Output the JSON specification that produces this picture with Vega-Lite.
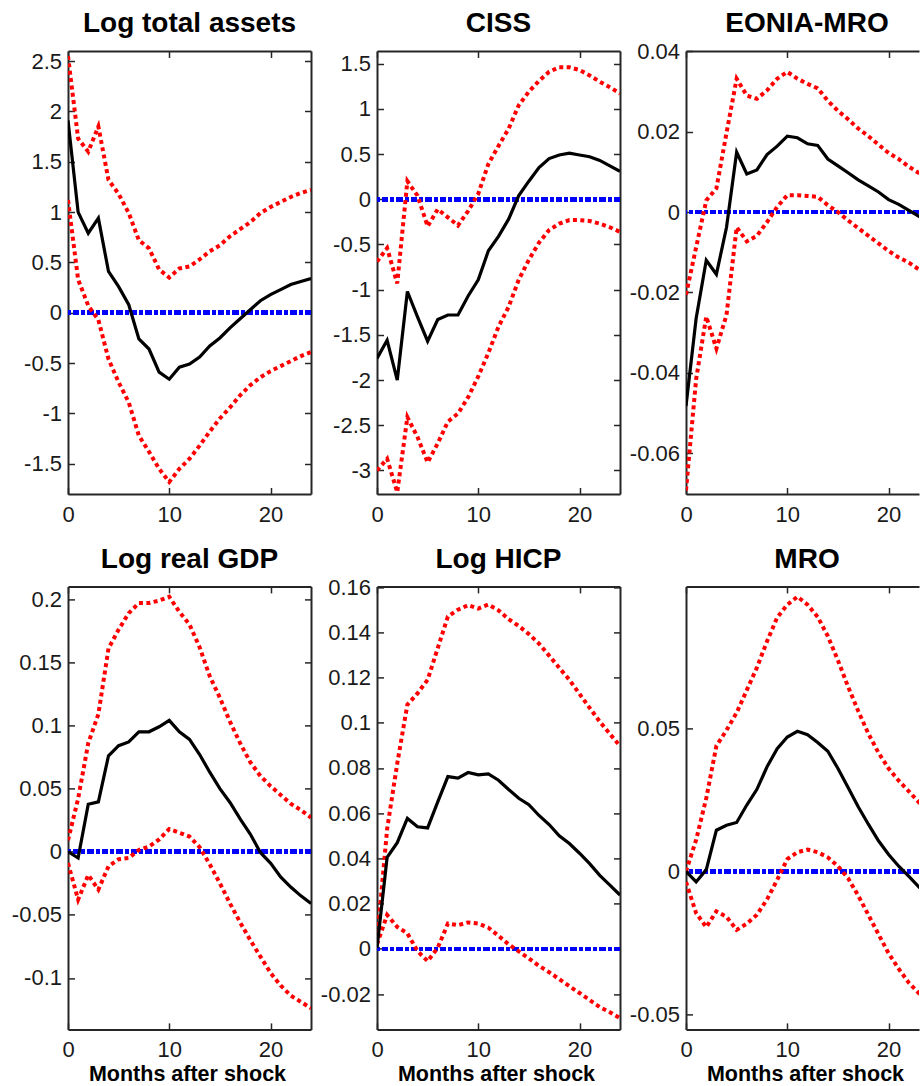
{
"$schema": "https://vega.github.io/schema/vega-lite/v6.json",
"padding": {"left": 11, "top": 10, "right": 0, "bottom": 0},
"background": "white",
"config": {
  "view": {"stroke": null},
  "axis": {"grid": false, "domainColor": "#262626", "domainWidth": 2, "tickColor": "#262626", "tickWidth": 1.5, "tickSize": -6.5, "labelFont": "Liberation Sans", "labelFontSize": 22, "labelColor": "#1a1a1a", "labelFlush": false, "labelOverlap": false, "titleFont": "Liberation Sans", "titleFontSize": 21.5, "titleFontWeight": "bold", "titleColor": "black"},
  "axisLeft": {"labelPadding": 13},
  "axisBottom": {"labelPadding": 16.9},
  "title": {"font": "Liberation Sans", "fontSize": 28, "fontWeight": "bold", "color": "black", "frame": "group", "anchor": "middle", "baseline": "alphabetic", "offset": 12}
},
"datasets": {"irf": [
{"p":"A","h":0,"lo":1.12,"md":1.91,"hi":2.55},{"p":"A","h":1,"lo":0.33,"md":1.0,"hi":1.73},{"p":"A","h":2,"lo":0.07,"md":0.79,"hi":1.6},{"p":"A","h":3,"lo":-0.07,"md":0.94,"hi":1.85},{"p":"A","h":4,"lo":-0.46,"md":0.41,"hi":1.32},{"p":"A","h":5,"lo":-0.69,"md":0.26,"hi":1.18},{"p":"A","h":6,"lo":-0.89,"md":0.08,"hi":0.99},{"p":"A","h":7,"lo":-1.22,"md":-0.26,"hi":0.72},{"p":"A","h":8,"lo":-1.38,"md":-0.36,"hi":0.64},{"p":"A","h":9,"lo":-1.55,"md":-0.59,"hi":0.43},{"p":"A","h":10,"lo":-1.68,"md":-0.66,"hi":0.35},{"p":"A","h":11,"lo":-1.55,"md":-0.54,"hi":0.44},{"p":"A","h":12,"lo":-1.45,"md":-0.51,"hi":0.46},{"p":"A","h":13,"lo":-1.32,"md":-0.44,"hi":0.53},{"p":"A","h":14,"lo":-1.18,"md":-0.33,"hi":0.61},{"p":"A","h":15,"lo":-1.05,"md":-0.25,"hi":0.67},{"p":"A","h":16,"lo":-0.94,"md":-0.15,"hi":0.76},{"p":"A","h":17,"lo":-0.82,"md":-0.06,"hi":0.83},{"p":"A","h":18,"lo":-0.72,"md":0.03,"hi":0.9},{"p":"A","h":19,"lo":-0.64,"md":0.12,"hi":0.99},{"p":"A","h":20,"lo":-0.58,"md":0.18,"hi":1.05},{"p":"A","h":21,"lo":-0.53,"md":0.23,"hi":1.1},{"p":"A","h":22,"lo":-0.48,"md":0.28,"hi":1.15},{"p":"A","h":23,"lo":-0.43,"md":0.31,"hi":1.19},{"p":"A","h":24,"lo":-0.39,"md":0.34,"hi":1.22},
{"p":"C","h":0,"lo":-3.0,"md":-1.76,"hi":-0.69},{"p":"C","h":1,"lo":-2.87,"md":-1.56,"hi":-0.54},{"p":"C","h":2,"lo":-3.24,"md":-2.0,"hi":-0.93},{"p":"C","h":3,"lo":-2.41,"md":-1.02,"hi":0.2},{"p":"C","h":4,"lo":-2.63,"md":-1.3,"hi":0.04},{"p":"C","h":5,"lo":-2.91,"md":-1.57,"hi":-0.3},{"p":"C","h":6,"lo":-2.7,"md":-1.33,"hi":-0.11},{"p":"C","h":7,"lo":-2.46,"md":-1.28,"hi":-0.2},{"p":"C","h":8,"lo":-2.37,"md":-1.28,"hi":-0.29},{"p":"C","h":9,"lo":-2.19,"md":-1.07,"hi":-0.13},{"p":"C","h":10,"lo":-1.96,"md":-0.89,"hi":0.06},{"p":"C","h":11,"lo":-1.7,"md":-0.57,"hi":0.39},{"p":"C","h":12,"lo":-1.41,"md":-0.41,"hi":0.59},{"p":"C","h":13,"lo":-1.19,"md":-0.22,"hi":0.78},{"p":"C","h":14,"lo":-0.89,"md":0.04,"hi":1.04},{"p":"C","h":15,"lo":-0.67,"md":0.2,"hi":1.19},{"p":"C","h":16,"lo":-0.48,"md":0.35,"hi":1.31},{"p":"C","h":17,"lo":-0.34,"md":0.45,"hi":1.41},{"p":"C","h":18,"lo":-0.27,"md":0.49,"hi":1.46},{"p":"C","h":19,"lo":-0.23,"md":0.51,"hi":1.46},{"p":"C","h":20,"lo":-0.23,"md":0.49,"hi":1.43},{"p":"C","h":21,"lo":-0.24,"md":0.47,"hi":1.37},{"p":"C","h":22,"lo":-0.27,"md":0.43,"hi":1.3},{"p":"C","h":23,"lo":-0.31,"md":0.37,"hi":1.24},{"p":"C","h":24,"lo":-0.36,"md":0.31,"hi":1.17},
{"p":"E","h":0,"lo":-0.0693,"md":-0.0483,"hi":-0.0206},{"p":"E","h":1,"lo":-0.0416,"md":-0.0265,"hi":-0.0088},{"p":"E","h":2,"lo":-0.026,"md":-0.012,"hi":0.0029},{"p":"E","h":3,"lo":-0.034,"md":-0.0155,"hi":0.0059},{"p":"E","h":4,"lo":-0.0256,"md":-0.0038,"hi":0.0197},{"p":"E","h":5,"lo":-0.0038,"md":0.0149,"hi":0.0332},{"p":"E","h":6,"lo":-0.0073,"md":0.0095,"hi":0.029},{"p":"E","h":7,"lo":-0.0059,"md":0.0105,"hi":0.0282},{"p":"E","h":8,"lo":-0.0025,"md":0.0143,"hi":0.0303},{"p":"E","h":9,"lo":0.0013,"md":0.0164,"hi":0.0332},{"p":"E","h":10,"lo":0.0042,"md":0.0189,"hi":0.0349},{"p":"E","h":11,"lo":0.0042,"md":0.0185,"hi":0.0332},{"p":"E","h":12,"lo":0.004,"md":0.017,"hi":0.0319},{"p":"E","h":13,"lo":0.0038,"md":0.0166,"hi":0.0308},{"p":"E","h":14,"lo":0.0017,"md":0.0132,"hi":0.0277},{"p":"E","h":15,"lo":0.0,"md":0.0115,"hi":0.0252},{"p":"E","h":16,"lo":-0.0021,"md":0.0098,"hi":0.0231},{"p":"E","h":17,"lo":-0.004,"md":0.008,"hi":0.0208},{"p":"E","h":18,"lo":-0.0059,"md":0.0065,"hi":0.0189},{"p":"E","h":19,"lo":-0.0078,"md":0.005,"hi":0.0168},{"p":"E","h":20,"lo":-0.0097,"md":0.0031,"hi":0.0147},{"p":"E","h":21,"lo":-0.0113,"md":0.0019,"hi":0.0132},{"p":"E","h":22,"lo":-0.0126,"md":0.0004,"hi":0.0113},{"p":"E","h":23,"lo":-0.0143,"md":-0.0011,"hi":0.0097},{"p":"E","h":24,"lo":-0.016,"md":-0.0025,"hi":0.008},
{"p":"G","h":0,"lo":-0.009,"md":0.0,"hi":0.009},{"p":"G","h":1,"lo":-0.038,"md":-0.005,"hi":0.042},{"p":"G","h":2,"lo":-0.0185,"md":0.0376,"hi":0.086},{"p":"G","h":3,"lo":-0.03,"md":0.0395,"hi":0.109},{"p":"G","h":4,"lo":-0.0116,"md":0.076,"hi":0.161},{"p":"G","h":5,"lo":-0.006,"md":0.084,"hi":0.176},{"p":"G","h":6,"lo":-0.005,"md":0.087,"hi":0.189},{"p":"G","h":7,"lo":0.0014,"md":0.095,"hi":0.197},{"p":"G","h":8,"lo":0.004,"md":0.095,"hi":0.197},{"p":"G","h":9,"lo":0.0097,"md":0.099,"hi":0.199},{"p":"G","h":10,"lo":0.018,"md":0.104,"hi":0.202},{"p":"G","h":11,"lo":0.015,"md":0.095,"hi":0.19},{"p":"G","h":12,"lo":0.012,"md":0.089,"hi":0.18},{"p":"G","h":13,"lo":0.0036,"md":0.077,"hi":0.162},{"p":"G","h":14,"lo":-0.01,"md":0.063,"hi":0.139},{"p":"G","h":15,"lo":-0.025,"md":0.05,"hi":0.122},{"p":"G","h":16,"lo":-0.041,"md":0.039,"hi":0.103},{"p":"G","h":17,"lo":-0.056,"md":0.026,"hi":0.086},{"p":"G","h":18,"lo":-0.07,"md":0.014,"hi":0.071},{"p":"G","h":19,"lo":-0.083,"md":-0.0006,"hi":0.06},{"p":"G","h":20,"lo":-0.096,"md":-0.009,"hi":0.052},{"p":"G","h":21,"lo":-0.106,"md":-0.02,"hi":0.045},{"p":"G","h":22,"lo":-0.114,"md":-0.028,"hi":0.038},{"p":"G","h":23,"lo":-0.119,"md":-0.035,"hi":0.033},{"p":"G","h":24,"lo":-0.124,"md":-0.041,"hi":0.027},
{"p":"H","h":0,"lo":0.002,"md":0.0005,"hi":0.0035},{"p":"H","h":1,"lo":0.015,"md":0.0405,"hi":0.053},{"p":"H","h":2,"lo":0.0097,"md":0.047,"hi":0.082},{"p":"H","h":3,"lo":0.0069,"md":0.0577,"hi":0.108},{"p":"H","h":4,"lo":-0.001,"md":0.054,"hi":0.113},{"p":"H","h":5,"lo":-0.0054,"md":0.0535,"hi":0.119},{"p":"H","h":6,"lo":0.0005,"md":0.065,"hi":0.133},{"p":"H","h":7,"lo":0.0112,"md":0.0762,"hi":0.147},{"p":"H","h":8,"lo":0.0105,"md":0.0755,"hi":0.15},{"p":"H","h":9,"lo":0.0117,"md":0.078,"hi":0.152},{"p":"H","h":10,"lo":0.0112,"md":0.077,"hi":0.1505},{"p":"H","h":11,"lo":0.0094,"md":0.0774,"hi":0.1523},{"p":"H","h":12,"lo":0.0058,"md":0.0746,"hi":0.1497},{"p":"H","h":13,"lo":0.002,"md":0.0705,"hi":0.1458},{"p":"H","h":14,"lo":-0.0011,"md":0.0666,"hi":0.1428},{"p":"H","h":15,"lo":-0.0042,"md":0.0638,"hi":0.1392},{"p":"H","h":16,"lo":-0.0075,"md":0.059,"hi":0.135},{"p":"H","h":17,"lo":-0.0103,"md":0.055,"hi":0.1297},{"p":"H","h":18,"lo":-0.0134,"md":0.05,"hi":0.1243},{"p":"H","h":19,"lo":-0.0165,"md":0.0466,"hi":0.119},{"p":"H","h":20,"lo":-0.0195,"md":0.0423,"hi":0.1128},{"p":"H","h":21,"lo":-0.0226,"md":0.0377,"hi":0.1066},{"p":"H","h":22,"lo":-0.0257,"md":0.0325,"hi":0.1005},{"p":"H","h":23,"lo":-0.028,"md":0.0282,"hi":0.0951},{"p":"H","h":24,"lo":-0.0306,"md":0.0238,"hi":0.0897},
{"p":"M","h":0,"lo":-0.0037,"md":0.0,"hi":0.0},{"p":"M","h":1,"lo":-0.0146,"md":-0.0037,"hi":0.011},{"p":"M","h":2,"lo":-0.0195,"md":0.0006,"hi":0.0256},{"p":"M","h":3,"lo":-0.014,"md":0.0144,"hi":0.0439},{"p":"M","h":4,"lo":-0.0159,"md":0.0161,"hi":0.0494},{"p":"M","h":5,"lo":-0.0205,"md":0.0171,"hi":0.0555},{"p":"M","h":6,"lo":-0.0183,"md":0.0232,"hi":0.0634},{"p":"M","h":7,"lo":-0.0152,"md":0.0287,"hi":0.0713},{"p":"M","h":8,"lo":-0.0098,"md":0.0366,"hi":0.0805},{"p":"M","h":9,"lo":-0.003,"md":0.0429,"hi":0.0888},{"p":"M","h":10,"lo":0.0043,"md":0.047,"hi":0.0933},{"p":"M","h":11,"lo":0.0067,"md":0.049,"hi":0.0961},{"p":"M","h":12,"lo":0.0076,"md":0.0478,"hi":0.0933},{"p":"M","h":13,"lo":0.0067,"md":0.0451,"hi":0.089},{"p":"M","h":14,"lo":0.0049,"md":0.042,"hi":0.0823},{"p":"M","h":15,"lo":0.0018,"md":0.036,"hi":0.0738},{"p":"M","h":16,"lo":-0.0024,"md":0.0293,"hi":0.0646},{"p":"M","h":17,"lo":-0.0085,"md":0.0226,"hi":0.0561},{"p":"M","h":18,"lo":-0.0152,"md":0.0165,"hi":0.0482},{"p":"M","h":19,"lo":-0.022,"md":0.0107,"hi":0.0415},{"p":"M","h":20,"lo":-0.0287,"md":0.0059,"hi":0.036},{"p":"M","h":21,"lo":-0.0341,"md":0.0018,"hi":0.0317},{"p":"M","h":22,"lo":-0.039,"md":-0.0018,"hi":0.028},{"p":"M","h":23,"lo":-0.0427,"md":-0.0055,"hi":0.0241},{"p":"M","h":24,"lo":-0.0463,"md":-0.0085,"hi":0.0201}
]},
"columns": 3,
"spacing": {"row": 92.4, "column": 66},
"bounds": "flush",
"concat": [
{
 "width": 243, "height": 443,
 "title": {"text": "Log total assets"},
 "data": {"name": "irf"},
 "transform": [{"filter": "datum.p === 'A'"}],
 "layer": [
  {"mark": {"type": "rule", "color": "#0000ff", "strokeWidth": 4, "strokeDash": [6, 2.5, 3.5, 2.5]},
   "encoding": {"y": {"datum": 0, "type": "quantitative", "scale": {"domain": [-1.8, 2.6], "nice": false, "zero": false}, "axis": {"orient": "left", "values": [-1.5, -1, -0.5, 0, 0.5, 1, 1.5, 2, 2.5], "labelExpr": "datum.value + ''", "title": null}}}},
  {"transform": [{"fold": ["lo", "hi"], "as": ["band", "val"]}],
   "mark": {"type": "line", "color": "#ff0000", "strokeWidth": 4, "strokeDash": [4, 3.4], "clip": true},
   "encoding": {"x": {"field": "h", "type": "quantitative", "scale": {"domain": [0, 24], "nice": false, "zero": false}, "axis": {"orient": "top", "values": [0, 10, 20], "labels": false, "title": null}},
    "y": {"field": "val", "type": "quantitative", "scale": {"domain": [-1.8, 2.6], "nice": false, "zero": false}, "axis": {"orient": "right", "values": [-1.5, -1, -0.5, 0, 0.5, 1, 1.5, 2, 2.5], "labels": false, "title": null}},
    "detail": {"field": "band"}}},
  {"mark": {"type": "line", "color": "black", "strokeWidth": 3.2, "clip": true},
   "encoding": {"x": {"field": "h", "type": "quantitative", "axis": {"orient": "bottom", "values": [0, 10, 20], "title": null}},
    "y": {"field": "md", "type": "quantitative", "axis": null}}}
 ],
 "resolve": {"axis": {"x": "independent", "y": "independent"}}
},
{
 "width": 243, "height": 443,
 "title": {"text": "CISS"},
 "data": {"name": "irf"},
 "transform": [{"filter": "datum.p === 'C'"}],
 "layer": [
  {"mark": {"type": "rule", "color": "#0000ff", "strokeWidth": 4, "strokeDash": [6, 2.5, 3.5, 2.5]},
   "encoding": {"y": {"datum": 0, "type": "quantitative", "scale": {"domain": [-3.26, 1.64], "nice": false, "zero": false}, "axis": {"orient": "left", "values": [-3, -2.5, -2, -1.5, -1, -0.5, 0, 0.5, 1, 1.5], "labelExpr": "datum.value + ''", "title": null}}}},
  {"transform": [{"fold": ["lo", "hi"], "as": ["band", "val"]}],
   "mark": {"type": "line", "color": "#ff0000", "strokeWidth": 4, "strokeDash": [4, 3.4], "clip": true},
   "encoding": {"x": {"field": "h", "type": "quantitative", "scale": {"domain": [0, 24], "nice": false, "zero": false}, "axis": {"orient": "top", "values": [0, 10, 20], "labels": false, "title": null}},
    "y": {"field": "val", "type": "quantitative", "scale": {"domain": [-3.26, 1.64], "nice": false, "zero": false}, "axis": {"orient": "right", "values": [-3, -2.5, -2, -1.5, -1, -0.5, 0, 0.5, 1, 1.5], "labels": false, "title": null}},
    "detail": {"field": "band"}}},
  {"mark": {"type": "line", "color": "black", "strokeWidth": 3.2, "clip": true},
   "encoding": {"x": {"field": "h", "type": "quantitative", "axis": {"orient": "bottom", "values": [0, 10, 20], "title": null}},
    "y": {"field": "md", "type": "quantitative", "axis": null}}}
 ],
 "resolve": {"axis": {"x": "independent", "y": "independent"}}
},
{
 "width": 233, "height": 443,
 "title": {"text": "EONIA-MRO", "dx": 4.5, "offset": 2},
 "data": {"name": "irf"},
 "transform": [{"filter": "datum.p === 'E'"}],
 "layer": [
  {"mark": {"type": "rule", "color": "#0000ff", "strokeWidth": 4, "strokeDash": [6, 2.5, 3.5, 2.5]},
   "encoding": {"y": {"datum": 0, "type": "quantitative", "scale": {"domain": [-0.0702, 0.0401], "nice": false, "zero": false}, "axis": {"orient": "left", "values": [-0.06, -0.04, -0.02, 0, 0.02, 0.04], "labelExpr": "datum.value + ''", "title": null}}}},
  {"transform": [{"fold": ["lo", "hi"], "as": ["band", "val"]}],
   "mark": {"type": "line", "color": "#ff0000", "strokeWidth": 4, "strokeDash": [4, 3.4], "clip": true},
   "encoding": {"x": {"field": "h", "type": "quantitative", "scale": {"domain": [0, 23], "nice": false, "zero": false}, "axis": {"orient": "top", "values": [0, 10, 20], "labels": false, "title": null}},
    "y": {"field": "val", "type": "quantitative", "scale": {"domain": [-0.0702, 0.0401], "nice": false, "zero": false}, "axis": null},
    "detail": {"field": "band"}}},
  {"mark": {"type": "line", "color": "black", "strokeWidth": 3.2, "clip": true},
   "encoding": {"x": {"field": "h", "type": "quantitative", "axis": {"orient": "bottom", "values": [0, 10, 20], "title": null}},
    "y": {"field": "md", "type": "quantitative", "axis": null}}}
 ],
 "resolve": {"axis": {"x": "independent", "y": "independent"}}
},
{
 "width": 243, "height": 443,
 "title": {"text": "Log real GDP"},
 "data": {"name": "irf"},
 "transform": [{"filter": "datum.p === 'G'"}],
 "layer": [
  {"mark": {"type": "rule", "color": "#0000ff", "strokeWidth": 4, "strokeDash": [6, 2.5, 3.5, 2.5]},
   "encoding": {"y": {"datum": 0, "type": "quantitative", "scale": {"domain": [-0.1408, 0.2102], "nice": false, "zero": false}, "axis": {"orient": "left", "values": [-0.1, -0.05, 0, 0.05, 0.1, 0.15, 0.2], "labelExpr": "datum.value + ''", "title": null}}}},
  {"transform": [{"fold": ["lo", "hi"], "as": ["band", "val"]}],
   "mark": {"type": "line", "color": "#ff0000", "strokeWidth": 4, "strokeDash": [4, 3.4], "clip": true},
   "encoding": {"x": {"field": "h", "type": "quantitative", "scale": {"domain": [0, 24], "nice": false, "zero": false}, "axis": {"orient": "top", "values": [0, 10, 20], "labels": false, "title": null}},
    "y": {"field": "val", "type": "quantitative", "scale": {"domain": [-0.1408, 0.2102], "nice": false, "zero": false}, "axis": {"orient": "right", "values": [-0.1, -0.05, 0, 0.05, 0.1, 0.15, 0.2], "labels": false, "title": null}},
    "detail": {"field": "band"}}},
  {"mark": {"type": "line", "color": "black", "strokeWidth": 3.2, "clip": true},
   "encoding": {"x": {"field": "h", "type": "quantitative", "axis": {"orient": "bottom", "values": [0, 10, 20], "title": "Months after shock", "titleX": 119, "titleY": 51.5, "titleBaseline": "alphabetic"}},
    "y": {"field": "md", "type": "quantitative", "axis": null}}}
 ],
 "resolve": {"axis": {"x": "independent", "y": "independent"}}
},
{
 "width": 243, "height": 443,
 "title": {"text": "Log HICP", "offset": 2},
 "data": {"name": "irf"},
 "transform": [{"filter": "datum.p === 'H'"}],
 "layer": [
  {"mark": {"type": "rule", "color": "#0000ff", "strokeWidth": 4, "strokeDash": [6, 2.5, 3.5, 2.5]},
   "encoding": {"y": {"datum": 0, "type": "quantitative", "scale": {"domain": [-0.0356, 0.1603], "nice": false, "zero": false}, "axis": {"orient": "left", "values": [-0.02, 0, 0.02, 0.04, 0.06, 0.08, 0.1, 0.12, 0.14, 0.16], "labelExpr": "datum.value + ''", "title": null}}}},
  {"transform": [{"fold": ["lo", "hi"], "as": ["band", "val"]}],
   "mark": {"type": "line", "color": "#ff0000", "strokeWidth": 4, "strokeDash": [4, 3.4], "clip": true},
   "encoding": {"x": {"field": "h", "type": "quantitative", "scale": {"domain": [0, 24], "nice": false, "zero": false}, "axis": {"orient": "top", "values": [0, 10, 20], "labels": false, "title": null}},
    "y": {"field": "val", "type": "quantitative", "scale": {"domain": [-0.0356, 0.1603], "nice": false, "zero": false}, "axis": {"orient": "right", "values": [-0.02, 0, 0.02, 0.04, 0.06, 0.08, 0.1, 0.12, 0.14, 0.16], "labels": false, "title": null}},
    "detail": {"field": "band"}}},
  {"mark": {"type": "line", "color": "black", "strokeWidth": 3.2, "clip": true},
   "encoding": {"x": {"field": "h", "type": "quantitative", "axis": {"orient": "bottom", "values": [0, 10, 20], "title": "Months after shock", "titleX": 119, "titleY": 51.5, "titleBaseline": "alphabetic"}},
    "y": {"field": "md", "type": "quantitative", "axis": null}}}
 ],
 "resolve": {"axis": {"x": "independent", "y": "independent"}}
},
{
 "width": 233, "height": 443,
 "title": {"text": "MRO", "dx": 4.5},
 "data": {"name": "irf"},
 "transform": [{"filter": "datum.p === 'M'"}],
 "layer": [
  {"mark": {"type": "rule", "color": "#0000ff", "strokeWidth": 4, "strokeDash": [6, 2.5, 3.5, 2.5]},
   "encoding": {"y": {"datum": 0, "type": "quantitative", "scale": {"domain": [-0.0553, 0.0997], "nice": false, "zero": false}, "axis": {"orient": "left", "values": [-0.05, 0, 0.05], "labelExpr": "datum.value + ''", "title": null}}}},
  {"transform": [{"fold": ["lo", "hi"], "as": ["band", "val"]}],
   "mark": {"type": "line", "color": "#ff0000", "strokeWidth": 4, "strokeDash": [4, 3.4], "clip": true},
   "encoding": {"x": {"field": "h", "type": "quantitative", "scale": {"domain": [0, 23], "nice": false, "zero": false}, "axis": {"orient": "top", "values": [0, 10, 20], "labels": false, "title": null}},
    "y": {"field": "val", "type": "quantitative", "scale": {"domain": [-0.0553, 0.0997], "nice": false, "zero": false}, "axis": null},
    "detail": {"field": "band"}}},
  {"mark": {"type": "line", "color": "black", "strokeWidth": 3.2, "clip": true},
   "encoding": {"x": {"field": "h", "type": "quantitative", "axis": {"orient": "bottom", "values": [0, 10, 20], "title": "Months after shock", "titleX": 119, "titleY": 51.5, "titleBaseline": "alphabetic"}},
    "y": {"field": "md", "type": "quantitative", "axis": null}}}
 ],
 "resolve": {"axis": {"x": "independent", "y": "independent"}}
}
]
}
